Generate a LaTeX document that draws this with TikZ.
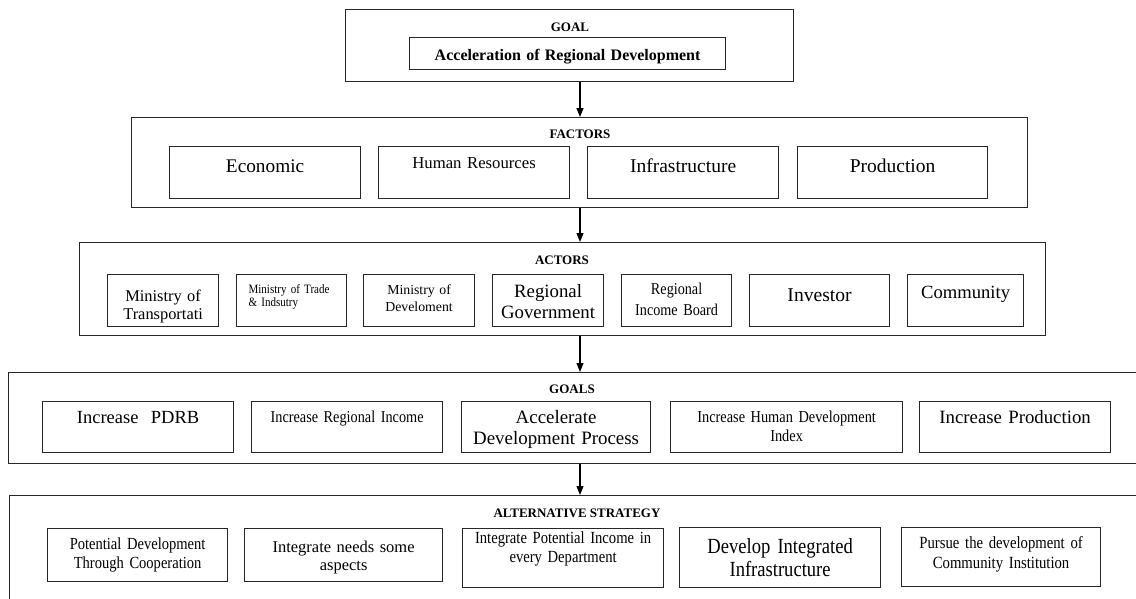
\documentclass[tikz,border=0pt]{standalone}
\usepackage{fontspec}
\setmainfont{Liberation Serif}
\newfontfamily\narrowserif[FakeStretch=0.86]{Liberation Serif}
\usetikzlibrary{arrows.meta}
\newcommand\fsz[2]{\fontsize{#1}{#2}\selectfont}
\tikzset{
  frame/.style={draw=black!85, line width=1.2pt, anchor=north west, inner sep=0pt},
  cell/.style={draw=black!85, line width=1.2pt, anchor=north west, inner sep=0pt, align=center},
  head/.style={anchor=base, font=\bfseries\fsz{13}{15}},
  flow/.style={line width=1.1pt, -{Triangle[length=9pt, width=7pt]}}
}
\begin{document}
\begin{tikzpicture}[x=1pt, y=-1pt]
  \useasboundingbox (0,0) rectangle (1136,598);
  \clip (0,0) rectangle (1136,598);
  % goal
  \node[frame, minimum width=448pt, minimum height=72pt] (goalbox) at (345,9) {};
  \node[head] (goalhead) at (570,31) {GOAL};
  \node[cell, text width=316pt, text height=23pt, text depth=9pt, font=\bfseries\fsz{16}{18}] (goaltext) at (409,37) {Acceleration of Regional Development};
  % factors
  \node[frame, minimum width=896pt, minimum height=90pt] (factors) at (131,117) {};
  \node[head] (factorshead) at (580,138) {FACTORS};
  \node[cell, text width=191pt, text height=26pt, text depth=26pt, font=\fsz{19.3}{21}] (economic) at (169,146) {Economic};
  \node[cell, text width=191pt, text height=22pt, text depth=30pt, font=\fsz{16.7}{19}] (human) at (378,146) {Human Resources};
  \node[cell, text width=191pt, text height=26pt, text depth=26pt, font=\fsz{19.5}{21}] (infra) at (587,146) {Infrastructure};
  \node[cell, text width=190pt, text height=26pt, text depth=26pt, font=\fsz{19.5}{21}] (production) at (797,146) {Production};
  % actors
  \node[frame, minimum width=966pt, minimum height=93pt] (actors) at (79,242) {};
  \node[head] (actorshead) at (562,264) {ACTORS};
  \node[cell, text width=111pt, text height=27pt, text depth=25pt, font=\fsz{16.4}{17.5}] (transport) at (107,274) {Ministry of\\Transportati};
  \node[cell, align=left, inner xsep=12pt, text width=86pt, text height=19.3pt, text depth=32.7pt, font=\narrowserif\fsz{12.8}{12.5}] (trade) at (236,274) {Ministry of Trade\\\& Indsutry};
  \node[cell, text width=111pt, text height=20pt, text depth=32pt, font=\fsz{13.8}{17}] (develop) at (363,274) {Ministry of\\Develoment};
  \node[cell, text width=111pt, text height=23.3pt, text depth=28.7pt, font=\fsz{18.8}{21}] (regional) at (492,274) {Regional\\Government};
  \node[cell, text width=110pt, text height=20pt, text depth=32pt, font=\narrowserif\fsz{16.5}{21}] (incomeboard) at (621,274) {Regional\\Income Board};
  \node[cell, text width=140pt, text height=26.7pt, text depth=25.3pt, font=\fsz{19.6}{21}] (investor) at (749,274) {Investor};
  \node[cell, text width=116pt, text height=24.3pt, text depth=27.7pt, font=\fsz{18.6}{21}] (community) at (907,274) {Community};
  % goals
  \node[frame, minimum width=1142pt, minimum height=91pt] (goals) at (8,372) {};
  \node[head] (goalshead) at (572,393) {GOALS};
  \node[cell, text width=191pt, text height=22.3pt, text depth=28.7pt, font=\fsz{18.5}{21}] (pdrb) at (42,401) {Increase\ \ PDRB};
  \node[cell, text width=191pt, text height=21pt, text depth=30pt, font=\narrowserif\fsz{16.6}{19}] (income) at (251,401) {Increase Regional Income};
  \node[cell, text width=189pt, text height=22.3pt, text depth=28.7pt, font=\fsz{18.9}{21}] (accelerate) at (461,401) {Accelerate\\Development Process};
  \node[cell, text width=232pt, text height=20.7pt, text depth=30.3pt, font=\narrowserif\fsz{16.7}{19}] (hdi) at (670,401) {Increase Human Development\\Index};
  \node[cell, text width=191pt, text height=22.3pt, text depth=28.7pt, font=\fsz{18.8}{21}] (moreprod) at (919,401) {Increase Production};
  % alternative strategy
  \node[frame, minimum width=1141pt, minimum height=125pt] (strategy) at (9,495) {};
  \node[head] (strategyhead) at (577,517) {ALTERNATIVE STRATEGY};
  \node[cell, text width=180pt, text height=21.3pt, text depth=31.7pt, font=\narrowserif\fsz{16.9}{19}] (cooperation) at (47,528) {Potential Development\\Through Cooperation};
  \node[cell, text width=198pt, text height=23.7pt, text depth=29.3pt, font=\fsz{16.5}{18.5}] (needs) at (244,528) {Integrate needs some\\aspects};
  \node[cell, text width=201pt, text height=15.3pt, text depth=43.7pt, font=\narrowserif\fsz{17}{18.4}] (department) at (462,528) {Integrate Potential Income in\\every Department};
  \node[cell, text width=201pt, text height=26.3pt, text depth=33.7pt, font=\narrowserif\fsz{21.6}{23}] (integrated) at (679,527) {Develop Integrated\\Infrastructure};
  \node[cell, text width=199pt, text height=21.3pt, text depth=37.7pt, font=\narrowserif\fsz{17.1}{20}] (institution) at (901,527) {Pursue the development of\\Community Institution};
  % arrows between the layers
  \coordinate (spine) at (580,0);
  \draw[flow] (spine |- goalbox.south) -- (spine |- factors.north);
  \draw[flow] (spine |- factors.south) -- (spine |- actors.north);
  \draw[flow] (spine |- actors.south) -- (spine |- goals.north);
  \draw[flow] (spine |- goals.south) -- (spine |- strategy.north);
\end{tikzpicture}
\end{document}
